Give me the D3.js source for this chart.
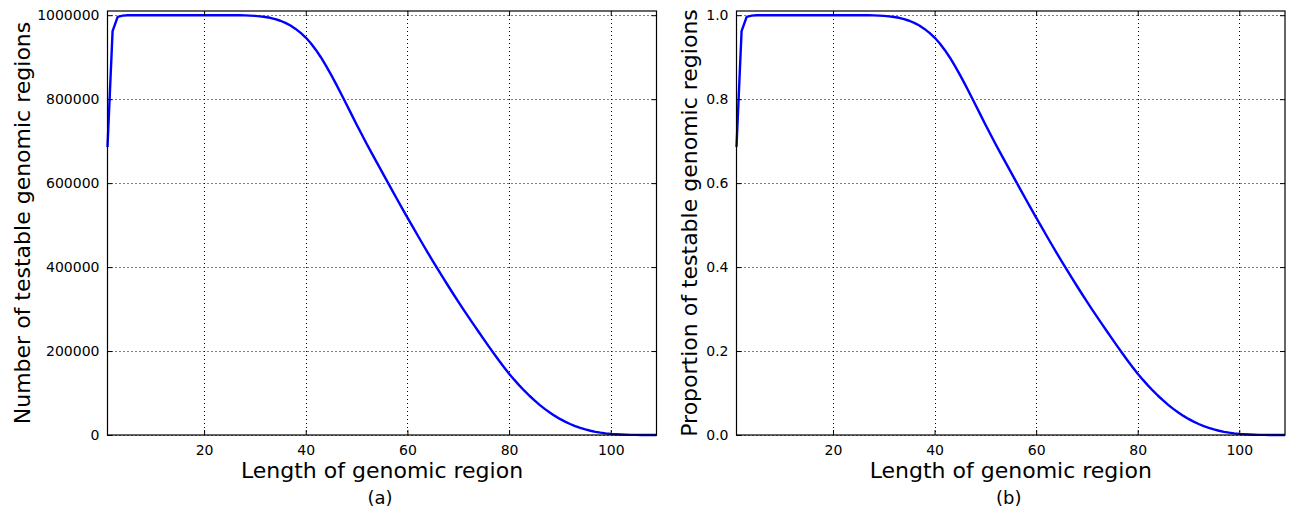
<!DOCTYPE html>
<html>
<head>
	<meta charset="utf-8">
	<title>Testable genomic regions</title>
	<script src="https://d3js.org/d3.v7.min.js"></script>
	<style>
		body { margin: 0; background: #fff; }
		svg text { font-family: "DejaVu Sans", sans-serif; fill: #000; }
	</style>
</head>
<body>
<div id="chart"></div>
<script type="text/javascript">

	// region lengths 1..109
	var lengths = d3.range(1, 110);

	// number of testable regions
	var counts = [
		686000, 962000, 996000, 999000, 1000000, 1000000, 1000000, 1000000, 1000000, 1000000,
		1000000, 1000000, 1000000, 1000000, 1000000, 1000000, 1000000, 1000000, 1000000, 1000000,
		1000000, 1000000, 1000000, 1000000, 1000000, 1000000, 999800, 999500, 999000, 998300,
		997300, 995800, 993800, 990800, 986800, 981800, 975300, 967300, 957800, 946800,
		933300, 917300, 899300, 879300, 857800, 835300, 811800, 787800, 763800, 739800,
		716300, 693300, 670800, 648800, 626800, 604800, 582800, 561000, 539400, 518000,
		496800, 475800, 455000, 434500, 414300, 394400, 374800, 355500, 336500, 317800,
		299400, 281300, 263500, 246000, 228500, 211000, 194000, 177500, 161500, 146000,
		131800, 118300, 105500, 93500, 82300, 71900, 62300, 53500, 45500, 38300,
		31900, 26200, 21200, 16900, 13200, 10100, 7600, 5600, 4000, 2800,
		1900, 1200, 700, 400, 200, 100, 50, 20, 0
	];

	// proportion of testable regions
	var proportions = [
		0.686, 0.962, 0.996, 0.999, 1.0, 1.0, 1.0, 1.0, 1.0, 1.0,
		1.0, 1.0, 1.0, 1.0, 1.0, 1.0, 1.0, 1.0, 1.0, 1.0,
		1.0, 1.0, 1.0, 1.0, 1.0, 1.0, 0.9998, 0.9995, 0.999, 0.9983,
		0.9973, 0.9958, 0.9938, 0.9908, 0.9868, 0.9818, 0.9753, 0.9673, 0.9578, 0.9468,
		0.9333, 0.9173, 0.8993, 0.8793, 0.8578, 0.8353, 0.8118, 0.7878, 0.7638, 0.7398,
		0.7163, 0.6933, 0.6708, 0.6488, 0.6268, 0.6048, 0.5828, 0.561, 0.5394, 0.518,
		0.4968, 0.4758, 0.455, 0.4345, 0.4143, 0.3944, 0.3748, 0.3555, 0.3365, 0.3178,
		0.2994, 0.2813, 0.2635, 0.246, 0.2285, 0.211, 0.194, 0.1775, 0.1615, 0.146,
		0.1318, 0.1183, 0.1055, 0.0935, 0.0823, 0.0719, 0.0623, 0.0535, 0.0455, 0.0383,
		0.0319, 0.0262, 0.0212, 0.0169, 0.0132, 0.0101, 0.0076, 0.0056, 0.004, 0.0028,
		0.0019, 0.0012, 0.0007, 0.0004, 0.0002, 0.0001, 0.00005, 0.00002, 0
	];

	var xTicks = [20, 40, 60, 80, 100];
	var countTicks = [0, 200000, 400000, 600000, 800000, 1000000];
	var propTicks = [0.0, 0.2, 0.4, 0.6, 0.8, 1.0];

	var W = 1290, H = 513;
	var svg = d3.select("#chart").append("svg")
		.attr("width", W)
		.attr("height", H);

	function panel(opts) {
		var left = opts.left, right = opts.right, top = 11, bottom = 435;

		var x = d3.scaleLinear().domain([1, 109]).range([left, right]);
		var y = d3.scaleLinear().domain([0, opts.ymax * 1.01]).range([bottom, top]);

		var g = svg.append("g");

		// grid, dotted
		var grid = g.append("g")
			.attr("stroke", "#000")
			.attr("stroke-width", 1)
			.attr("stroke-dasharray", "1,3");
		grid.selectAll(".gx").data(xTicks).enter()
			.append("line")
			.attr("x1", function(d){ return Math.round(x(d)) + 0.5; })
			.attr("x2", function(d){ return Math.round(x(d)) + 0.5; })
			.attr("y1", top).attr("y2", bottom);
		grid.selectAll(".gy").data(opts.yTicks).enter()
			.append("line")
			.attr("y1", function(d){ return Math.round(y(d)) + 0.5; })
			.attr("y2", function(d){ return Math.round(y(d)) + 0.5; })
			.attr("x1", left).attr("x2", right);

		// the curve
		var line = d3.line()
			.x(function(d, i){ return x(lengths[i]); })
			.y(function(d){ return y(d); });
		g.append("path")
			.datum(opts.values)
			.attr("d", line)
			.attr("fill", "none")
			.attr("stroke", "#0000ff")
			.attr("stroke-width", 2.4)
			.attr("stroke-linejoin", "round");

		// axes with inward ticks, on all four sides
		var ax = [
			d3.axisBottom(x).tickValues(xTicks).tickSizeInner(-5).tickSizeOuter(0).tickFormat(d3.format("d")).tickPadding(10),
			d3.axisTop(x).tickValues(xTicks).tickSizeInner(-5).tickSizeOuter(0).tickFormat(""),
			d3.axisLeft(y).tickValues(opts.yTicks).tickSizeInner(-5).tickSizeOuter(0).tickFormat(opts.fmt).tickPadding(8),
			d3.axisRight(y).tickValues(opts.yTicks).tickSizeInner(-5).tickSizeOuter(0).tickFormat("")
		];
		var pos = [
			"translate(0," + bottom + ")",
			"translate(0," + top + ")",
			"translate(" + left + ",0)",
			"translate(" + right + ",0)"
		];
		ax.forEach(function(a, i) {
			var ag = g.append("g").attr("transform", pos[i]).call(a);
			ag.select(".domain").remove();
			ag.selectAll("line").attr("stroke", "#000").attr("stroke-width", 1);
			ag.selectAll("text")
				.style("font-family", "DejaVu Sans")
				.style("font-size", "14px");
		});

		// frame
		g.append("rect")
			.attr("x", left).attr("y", top)
			.attr("width", right - left).attr("height", bottom - top)
			.attr("fill", "none")
			.attr("stroke", "#000")
			.attr("stroke-width", 1.2);

		// labels
		g.append("text")
			.attr("x", (left + right) / 2)
			.attr("y", 478)
			.attr("text-anchor", "middle")
			.style("font-size", "22px")
			.text("Length of genomic region");

		g.append("text")
			.attr("transform", "translate(" + opts.ylabelX + "," + ((top + bottom) / 2) + ") rotate(-90)")
			.attr("text-anchor", "middle")
			.style("font-size", "22px")
			.text(opts.ylabel);

		g.append("text")
			.attr("x", (left + right) / 2 - 2)
			.attr("y", 504)
			.attr("text-anchor", "middle")
			.style("font-size", "18px")
			.text(opts.caption);
	}

	panel({
		left: 107.5, right: 656.5,
		values: counts, ymax: 1000000,
		yTicks: countTicks, fmt: d3.format("d"),
		ylabel: "Number of testable genomic regions", ylabelX: 30,
		caption: "(a)"
	});

	panel({
		left: 736.5, right: 1285,
		values: proportions, ymax: 1.0,
		yTicks: propTicks, fmt: d3.format(".1f"),
		ylabel: "Proportion of testable genomic regions", ylabelX: 697,
		caption: "(b)"
	});

</script>
</body>
</html>
